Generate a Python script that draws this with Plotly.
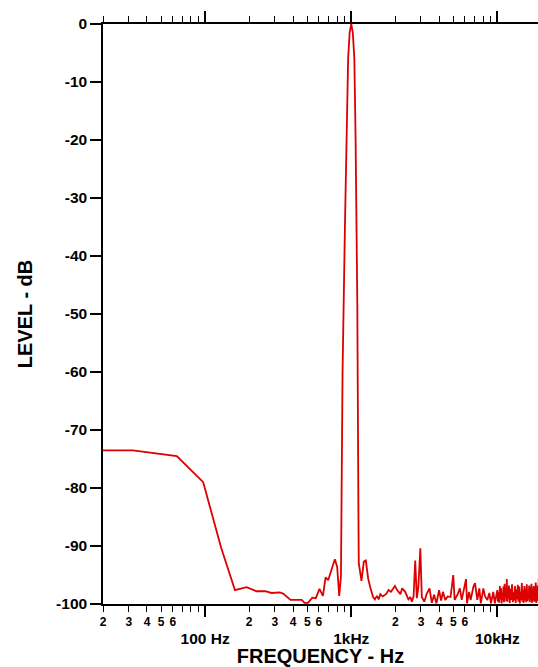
import numpy as np
import plotly.graph_objects as go

# Spectrum of a 1 kHz test tone (frequency in Hz, level in dB)
freq_hz = [
    20, 32, 64, 97, 129, 160, 192, 225, 258, 285, 324, 342, 384, 444, 458,
    479, 506, 541, 572, 606, 640, 667, 695, 734, 772, 801, 827, 850, 872,
    905, 928, 952, 975, 1000, 1025, 1050, 1071, 1100, 1120, 1126, 1175,
    1219, 1258, 1305, 1354, 1411, 1450, 1500, 1540, 1580, 1640, 1730, 1800,
    1870, 1990, 2060, 2170, 2230, 2340, 2460, 2540, 2600, 2670, 2740, 2810,
    2880, 2970, 3040, 3160, 3290, 3430, 3560, 3690, 3830, 3990, 4120, 4240,
    4400, 4570, 4780, 4990, 5100, 5330, 5540, 5700, 5880, 6100, 6200, 6400,
    6560, 6860, 7030, 7290, 7520, 7700, 8020, 8230, 8540, 8810, 9040, 9370,
    9610,
    9990, 10100, 10200, 10300, 10400, 10500, 10600, 10700, 10800, 10900,
    11000, 11100, 11200, 11300, 11400, 11500, 11600, 11700, 11800, 11900,
    12000, 12150, 12300, 12450, 12600, 12750, 12900, 13050, 13200, 13350,
    13500, 13650, 13800, 13950, 14100, 14250, 14400, 14550, 14700, 14850,
    15000, 15150, 15300, 15450, 15600, 15750, 15900, 16050, 16200, 16350,
    16500, 16650, 16800, 16950, 17100, 17250, 17400, 17550, 17700, 17850,
    18000, 18150, 18300, 18450, 18600, 18750, 18900, 19050, 19200, 19350,
    19450,
]
level_db = [
    -73.5, -73.5, -74.5, -79.0, -90.4, -97.6, -97.1, -97.8, -97.8, -98.1,
    -98.0, -98.2, -99.3, -99.3, -99.3, -99.8, -99.8, -98.9, -99.0, -97.4,
    -98.6, -95.4, -95.9, -94.0, -92.3, -93.6, -98.6, -95.3, -60.0, -35.0,
    -20.0, -6.0, -1.5, 0.0, -1.5, -6.0, -20.0, -48.0, -85.0, -93.0, -96.0,
    -92.7, -92.5, -95.6, -97.3, -98.8, -99.2, -98.6, -99.2, -98.3, -98.7,
    -98.3, -97.6, -97.9, -96.9, -97.6, -98.3, -97.3, -97.9, -99.2, -98.8,
    -99.6, -98.7, -92.5, -99.0, -97.0, -90.4, -98.8, -99.6, -98.2, -97.3,
    -99.8, -98.4, -99.9, -97.6, -99.4, -97.9, -99.3, -98.7, -98.8, -95.0,
    -99.3, -98.4, -97.3, -99.3, -97.9, -95.7, -99.9, -97.9, -99.3, -97.0,
    -96.4, -99.3, -97.3, -99.9, -97.3, -98.7, -99.3, -98.1, -99.9, -97.9,
    -99.9,
    -97.6, -99.6, -98.0, -99.8, -96.9, -99.2, -97.3, -99.9, -98.1, -99.3,
    -97.0, -99.7, -96.5, -98.9, -97.2, -99.5, -95.7, -99.6, -97.8, -99.1,
    -96.8, -99.8, -97.4, -99.3, -96.6, -99.7, -98.0, -99.4, -96.9, -99.8,
    -97.5, -99.2, -96.7, -99.6, -97.0, -99.9, -97.9, -99.3, -96.4, -99.6,
    -97.6, -99.8, -96.9, -99.4, -97.3, -99.7, -96.6, -99.5, -97.8, -99.2,
    -96.8, -99.7, -97.1, -99.4, -96.5, -99.8, -97.7, -99.3, -96.9, -99.6,
    -97.2, -99.5, -96.3, -99.8, -97.6, -99.1, -96.8, -99.5, -95.6, -99.3,
    -98.0,
]

# Axis ticks
minor_vals = [m * d for d in (10, 100, 1000) for m in range(2, 10)]
minor_text = [str(m) if m <= 6 else "" for d in (10, 100, 1000) for m in range(2, 10)]
major_vals = [100, 1000, 10000]
major_text = ["100 Hz", "1kHz", "10kHz"]
level_ticks = list(range(-100, 1, 10))
level_text = [str(v) for v in level_ticks]

FONT = "Liberation Sans, Arial, sans-serif"
x_range = [np.log10(20), 4.278]

fig = go.Figure()
fig.add_trace(go.Scatter(
    x=freq_hz, y=level_db, mode="lines",
    line=dict(color="#dd0000", width=1.8),
    cliponaxis=False, showlegend=False,
))

fig.update_layout(
    width=538, height=667,
    margin=dict(l=103, r=0, t=24, b=63),
    paper_bgcolor="white", plot_bgcolor="white",
    font=dict(family=FONT, color="black"),
    xaxis=dict(
        type="log", range=x_range, showgrid=False, zeroline=False,
        showline=True, linecolor="black", linewidth=1.5, mirror="ticks",
        tickmode="array", tickvals=minor_vals, ticktext=minor_text,
        ticks="outside", ticklen=6, tickwidth=1, tickcolor="black",
        tickfont=dict(family=FONT, size=12, weight="bold"),
    ),
    xaxis2=dict(
        type="log", range=x_range, overlaying="x", side="bottom", anchor="y",
        showgrid=False, zeroline=False, showline=False, mirror="ticks",
        tickmode="array", tickvals=major_vals, ticktext=major_text,
        ticks="outside", ticklen=12, tickwidth=2, tickcolor="black",
        ticklabelstandoff=8,
        tickfont=dict(family=FONT, size=15.5, weight="bold"),
        title=dict(text="FREQUENCY - Hz", standoff=7,
                   font=dict(family=FONT, size=20, weight="bold")),
    ),
    yaxis=dict(
        range=[-100, 0], showgrid=False, zeroline=False,
        showline=True, linecolor="black", linewidth=1.5,
        tickmode="array", tickvals=level_ticks, ticktext=level_text,
        ticks="outside", ticklen=11, tickwidth=2, tickcolor="black",
        tickfont=dict(family=FONT, size=15.5, weight="bold"),
        title=dict(text="LEVEL - dB", standoff=18,
                   font=dict(family=FONT, size=20, weight="bold")),
    ),
)
# invisible companion trace so the major-tick axis is drawn
fig.add_trace(go.Scatter(x=[100], y=[None], xaxis="x2", yaxis="y",
                         showlegend=False, hoverinfo="skip"))

fig.write_html("out.html")
